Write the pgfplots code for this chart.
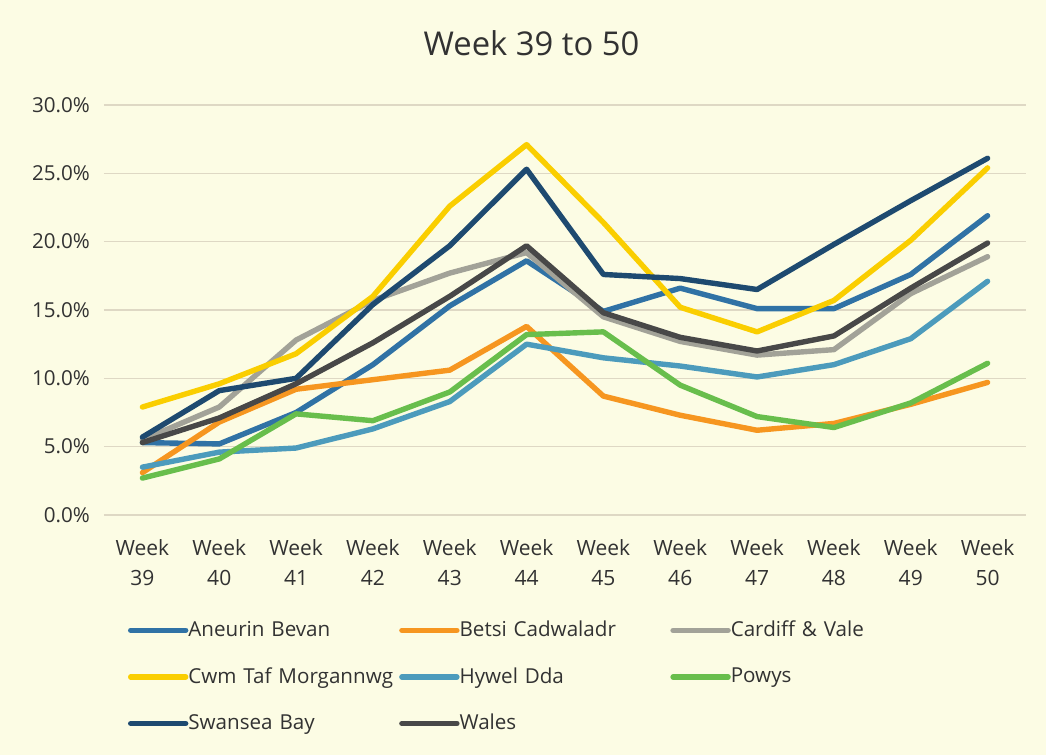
\documentclass[border=0pt]{standalone}
\usepackage{pgfplots}
\pgfplotsset{compat=1.18}
\usepackage{fontspec}
\setmainfont{Open Sans}
\definecolor{bgcol}{RGB}{252,252,228}
\definecolor{gridcol}{RGB}{222,216,196}
\definecolor{txtcol}{RGB}{50,50,50}
\definecolor{cAB}{RGB}{48,114,165}
\definecolor{cBC}{RGB}{246,150,32}
\definecolor{cCV}{RGB}{162,162,152}
\definecolor{cCT}{RGB}{250,206,0}
\definecolor{cHD}{RGB}{76,155,188}
\definecolor{cPW}{RGB}{104,190,76}
\definecolor{cSB}{RGB}{30,74,112}
\definecolor{cWL}{RGB}{72,72,72}
\begin{document}
\begin{tikzpicture}
\fill[bgcol] (0,0) rectangle (523pt,377.5pt);
\begin{axis}[
  at={(52pt,120pt)}, anchor=south west,
  scale only axis, width=461pt, height=205pt,
  xmin=-0.5, xmax=11.5, ymin=0, ymax=30,
  xtick={0,...,11},
  xticklabels={{Week\\39},{Week\\40},{Week\\41},{Week\\42},{Week\\43},{Week\\44},{Week\\45},{Week\\46},{Week\\47},{Week\\48},{Week\\49},{Week\\50}},
  ytick={0,5,10,15,20,25,30},
  yticklabels={0.0\%,5.0\%,10.0\%,15.0\%,20.0\%,25.0\%,30.0\%},
  major tick length=0pt,
  axis line style={draw=none},
  ymajorgrids, grid style={gridcol, line width=0.8pt},
  xticklabel style={align=center, font=\fontsize{10.5}{15}\selectfont, text=txtcol, yshift=-8.5pt},
  yticklabel style={font=\fontsize{10.3}{12}\selectfont, text=txtcol, xshift=-3.5pt},
  title={Week 39 to 50},
  title style={at={(0.4637,1)}, anchor=base, yshift=19pt, font=\fontsize{16.4}{20}\selectfont, text=txtcol},
  every axis plot/.append style={line width=2.7pt, line cap=round, line join=round, mark=none},
  legend columns=3,
  legend cell align=left,
  legend image code/.code={\draw[#1, line width=2.7pt, line cap=round] (0pt,0pt) -- (27.5pt,0pt);},
  legend style={at={(0,0)}, anchor=north west, xshift=12pt, yshift=-46pt,
    draw=none, fill=none, inner sep=0pt, outer sep=0pt, column sep=0pt, row sep=0pt,
    font=\fontsize{10.3}{12}\selectfont, text=txtcol,
    nodes={inner sep=0pt, minimum height=23.3pt, text width=105.4pt, align=left}},
]
\addplot[cAB] coordinates {(0,5.3) (1,5.2) (2,7.5) (3,11.0) (4,15.3) (5,18.6) (6,14.9) (7,16.6) (8,15.1) (9,15.1) (10,17.6) (11,21.9)};
\addlegendentry{Aneurin Bevan}
\addplot[cBC] coordinates {(0,3.1) (1,6.8) (2,9.2) (3,9.9) (4,10.6) (5,13.8) (6,8.7) (7,7.3) (8,6.2) (9,6.7) (10,8.1) (11,9.7)};
\addlegendentry{Betsi Cadwaladr}
\addplot[cCV] coordinates {(0,5.5) (1,7.9) (2,12.8) (3,15.7) (4,17.7) (5,19.2) (6,14.5) (7,12.7) (8,11.7) (9,12.1) (10,16.2) (11,18.9)};
\addlegendentry{Cardiff \& Vale}
\addplot[cCT] coordinates {(0,7.9) (1,9.6) (2,11.8) (3,16.0) (4,22.6) (5,27.1) (6,21.4) (7,15.2) (8,13.4) (9,15.7) (10,20.1) (11,25.4)};
\addlegendentry{Cwm~Taf~Morgannwg}
\addplot[cHD] coordinates {(0,3.5) (1,4.6) (2,4.9) (3,6.3) (4,8.3) (5,12.5) (6,11.5) (7,10.9) (8,10.1) (9,11.0) (10,12.9) (11,17.1)};
\addlegendentry{Hywel Dda}
\addplot[cPW] coordinates {(0,2.7) (1,4.1) (2,7.4) (3,6.9) (4,9.0) (5,13.2) (6,13.4) (7,9.5) (8,7.2) (9,6.4) (10,8.2) (11,11.1)};
\addlegendentry{Powys}
\addplot[cSB] coordinates {(0,5.7) (1,9.1) (2,10.0) (3,15.4) (4,19.7) (5,25.3) (6,17.6) (7,17.3) (8,16.5) (9,19.8) (10,23.0) (11,26.1)};
\addlegendentry{Swansea Bay}
\addplot[cWL] coordinates {(0,5.3) (1,7.1) (2,9.6) (3,12.6) (4,16.0) (5,19.7) (6,14.8) (7,13.0) (8,12.0) (9,13.1) (10,16.6) (11,19.9)};
\addlegendentry{Wales}
\end{axis}
\end{tikzpicture}
\end{document}
